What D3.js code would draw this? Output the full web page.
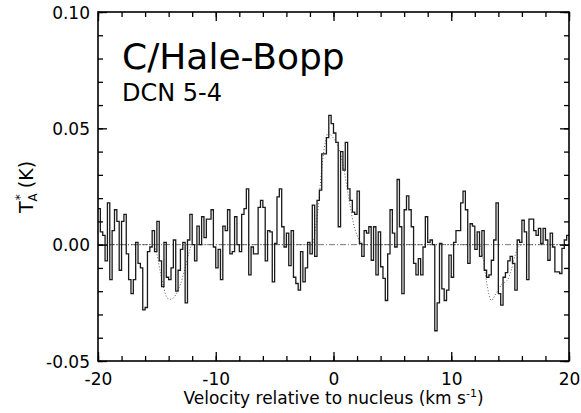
<!DOCTYPE html>
<html>
<head>
<meta charset="utf-8">
<script src="https://cdn.jsdelivr.net/npm/d3@7"></script>
<style>
  body { margin: 0; background: #fff; }
  text { font-family: "DejaVu Sans", sans-serif; fill: #000; }
</style>
</head>
<body>
<div id="chart"></div>
<script>
// spectrum channels: first channel edge and channel width (km/s)
var vStart = -20;
var dv = 0.2;

// antenna temperature per channel (K)
var tA = [
  0.0155, 0.0055, 0.004, -0.007, 0.018, -0.015, 0.006, 0.015, 0.010, -0.011,
  0.010, 0.013, -0.004, -0.015, -0.021, -0.015, 0.001, -0.008, -0.010, -0.028,
  -0.027, -0.003, -0.001, 0.006, -0.003, 0.010, -0.007, -0.018, 0.001, -0.014,
  -0.015, -0.010, 0.002, -0.020, -0.011, -0.002, 0.001, -0.025, 0.002, 0.013,
  0.000, -0.007, 0.008, 0.000, 0.012, 0.003, 0.011, 0.011, 0.015, -0.001,
  -0.010, -0.002, -0.015, 0.008, 0.006, 0.015, -0.004, -0.003, 0.012, 0.000,
  -0.003, 0.013, 0.0155, 0.024, -0.013, -0.001, -0.004, -0.004, 0.016, 0.019,
  0.016, -0.007, 0.006, 0.0055, -0.016, 0.0005, 0.0205, 0.024, 0.0077, -0.001,
  0.005, -0.009, 0.006, -0.014, -0.0167, -0.0195, -0.003, -0.016, -0.010, 0.001,
  -0.004, 0.017, -0.005, 0.019, 0.0234, 0.039, 0.039, 0.046, 0.0556, 0.052,
  0.048, 0.044, 0.0077, 0.040, 0.032, 0.044, 0.024, 0.019, 0.014, 0.013,
  0.023, 0.0005, -0.005, 0.006, 0.005, 0.0077, -0.0067, 0.0077, -0.013, 0.0055,
  -0.0095, -0.0145, -0.024, -0.004, 0.015, 0.005, -0.001, 0.028, 0.0077, -0.021,
  0.015, 0.021, 0.015, 0.0077, -0.008, -0.013, -0.006, -0.013, -0.001, 0.012,
  0.001, 0.002, 0.000, -0.037, -0.025, 0.0005, -0.019, -0.024, -0.0195, -0.0045,
  -0.014, 0.001, 0.006, 0.006, 0.018, 0.023, 0.015, -0.008, 0.009, 0.008,
  -0.002, 0.0055, -0.005, 0.006, -0.011, -0.014, -0.013, -0.0067, 0.002, 0.018,
  -0.021, -0.026, -0.014, -0.012, -0.007, -0.005, -0.008, -0.0195, 0.002, 0.001,
  0.0105, 0.0055, -0.015, 0.011, 0.011, 0.006, 0.004, 0.007, 0.0005, 0.007,
  0.002, -0.0067, 0.005, -0.001, -0.0117, -0.0117, -0.0124, -0.0016, 0.002, 0.004
];

// model profile (dotted), velocity and temperature
var modelV = [-20, -15.3, -15.0, -14.7, -14.4, -14.1, -13.8, -13.4, -13.0, -12.6, -12.3, -12.0,
  -1.8, -1.5, -1.3, -1.1, -0.9, -0.7, -0.45, -0.2, 0.2, 0.55, 0.9, 1.1, 1.4, 1.7, 2.0, 2.3, 2.6,
  12.4, 12.7, 13.0, 13.4, 13.8, 14.3, 14.8, 15.1, 15.4, 15.7, 16.0, 20];
var modelT = [0, 0, -0.004, -0.012, -0.019, -0.023, -0.0235, -0.0215, -0.017, -0.010, -0.004, 0,
  0, 0.008, 0.016, 0.027, 0.037, 0.044, 0.048, 0.047, 0.044, 0.040, 0.032, 0.026, 0.017, 0.009, 0.004, 0.001, 0,
  0, -0.006, -0.016, -0.024, -0.021, -0.017, -0.015, -0.011, -0.005, -0.001, 0, 0];

// axis ticks
var xTicks = [-20, -10, 0, 10, 20];
var yTicks = [-0.05, 0.00, 0.05, 0.10];
var yTickLabels = ["-0.05", "0.00", "0.05", "0.10"];

var svgWidth = 581;
var svgHeight = 413;

var margin = {
  top: 12,
  right: 12,
  bottom: 52,
  left: 98
};

var chartWidth = svgWidth - margin.left - margin.right;
var chartHeight = svgHeight - margin.top - margin.bottom;

var svg = d3.select("#chart")
  .append("svg")
  .attr("width", svgWidth)
  .attr("height", svgHeight);

var chartGroup = svg.append("g")
  .attr("transform", `translate(${margin.left}, ${margin.top})`);

// scales
var xLinSc = d3.scaleLinear().domain([-20, 20]).range([0, chartWidth]);
var yLinSc = d3.scaleLinear().domain([-0.05, 0.10]).range([chartHeight, 0]);

svg.append("defs").append("clipPath").attr("id", "plotclip")
  .append("rect").attr("width", chartWidth).attr("height", chartHeight);

var plot = chartGroup.append("g").attr("clip-path", "url(#plotclip)");

// zero line, dash-dot
plot.append("line")
  .attr("x1", 0).attr("x2", chartWidth)
  .attr("y1", yLinSc(0)).attr("y2", yLinSc(0))
  .attr("stroke", "#777")
  .attr("stroke-width", 1)
  .attr("stroke-dasharray", "6,2,1,2");

// model, dotted
var modelPts = modelV.map((v, i) => ({v: v, t: modelT[i]}));
var modelLine = d3.line()
  .x(d => xLinSc(d.v))
  .y(d => yLinSc(d.t))
  .curve(d3.curveMonotoneX);

plot.append("path")
  .datum(modelPts)
  .attr("d", modelLine)
  .attr("fill", "none")
  .attr("stroke", "#555")
  .attr("stroke-width", 1)
  .attr("stroke-dasharray", "1,2");

// spectrum as histogram steps
var pts = tA.map((t, i) => ({v: vStart + i * dv, t: t}));
pts.push({v: vStart + tA.length * dv, t: tA[tA.length - 1]});

var stepLine = d3.line()
  .x(d => xLinSc(d.v))
  .y(d => yLinSc(d.t))
  .curve(d3.curveStepAfter);

plot.append("path")
  .datum(pts)
  .attr("d", stepLine)
  .attr("fill", "none")
  .attr("stroke", "#1a1a1a")
  .attr("stroke-width", 1.3);

// axes, ticks pointing inward
var minorX = d3.range(-20, 20.01, 2);
var minorY = d3.range(-0.05, 0.1001, 0.01);

function styleAxis(g) {
  g.select(".domain").remove();
  g.selectAll("line").attr("stroke", "#000").attr("stroke-width", 1.3);
}

chartGroup.append("g")
  .attr("transform", `translate(0, ${chartHeight})`)
  .call(d3.axisBottom(xLinSc).tickValues(minorX).tickSize(-5).tickFormat(""))
  .call(styleAxis);

chartGroup.append("g")
  .attr("transform", `translate(0, ${chartHeight})`)
  .call(d3.axisBottom(xLinSc).tickValues(xTicks).tickSize(-9).tickFormat(d3.format("d")))
  .call(styleAxis)
  .call(g => g.selectAll("text")
    .attr("y", 24).attr("dy", 0)
    .attr("font-size", 17)
    .attr("fill", "#000")
    .text(d => d < 0 ? "-" + Math.abs(d) : d));

chartGroup.append("g")
  .call(d3.axisTop(xLinSc).tickValues(minorX).tickSize(-5).tickFormat(""))
  .call(styleAxis);

chartGroup.append("g")
  .call(d3.axisTop(xLinSc).tickValues(xTicks).tickSize(-9).tickFormat(""))
  .call(styleAxis);

chartGroup.append("g")
  .call(d3.axisLeft(yLinSc).tickValues(minorY).tickSize(-5).tickFormat(""))
  .call(styleAxis);

chartGroup.append("g")
  .call(d3.axisLeft(yLinSc).tickValues(yTicks).tickSize(-9).tickFormat((d, i) => yTickLabels[i]))
  .call(styleAxis)
  .call(g => g.selectAll("text")
    .attr("x", -8)
    .attr("dy", "0.36em")
    .attr("font-size", 17)
    .attr("fill", "#000"));

chartGroup.append("g")
  .attr("transform", `translate(${chartWidth}, 0)`)
  .call(d3.axisRight(yLinSc).tickValues(minorY).tickSize(-5).tickFormat(""))
  .call(styleAxis);

chartGroup.append("g")
  .attr("transform", `translate(${chartWidth}, 0)`)
  .call(d3.axisRight(yLinSc).tickValues(yTicks).tickSize(-9).tickFormat(""))
  .call(styleAxis);

// frame
chartGroup.append("rect")
  .attr("width", chartWidth)
  .attr("height", chartHeight)
  .attr("fill", "none")
  .attr("stroke", "#000")
  .attr("stroke-width", 1.6);

// titles inside plot
chartGroup.append("text")
  .attr("x", 24).attr("y", 57)
  .attr("font-size", 36)
  .text("C/Hale-Bopp");

chartGroup.append("text")
  .attr("x", 24).attr("y", 89)
  .attr("font-size", 24)
  .text("DCN 5-4");

// axis titles
var xt = chartGroup.append("text")
  .attr("x", chartWidth / 2)
  .attr("y", chartHeight + 43)
  .attr("text-anchor", "middle")
  .attr("font-size", 17);
xt.append("tspan").text("Velocity relative to nucleus (km s");
xt.append("tspan").attr("font-size", 11).attr("dy", -7).text("-1");
xt.append("tspan").attr("dy", 7).text(")");

var yt = svg.append("text")
  .attr("transform", "translate(33, 187) rotate(-90)")
  .attr("text-anchor", "middle")
  .attr("font-size", 19);
yt.append("tspan").text("T");
yt.append("tspan").attr("font-size", 12).attr("dy", 4).text("A");
yt.append("tspan").attr("font-size", 12).attr("dx", -7).attr("dy", -13).text("*");
yt.append("tspan").attr("dy", 9).text(" (K)");
</script>
</body>
</html>
